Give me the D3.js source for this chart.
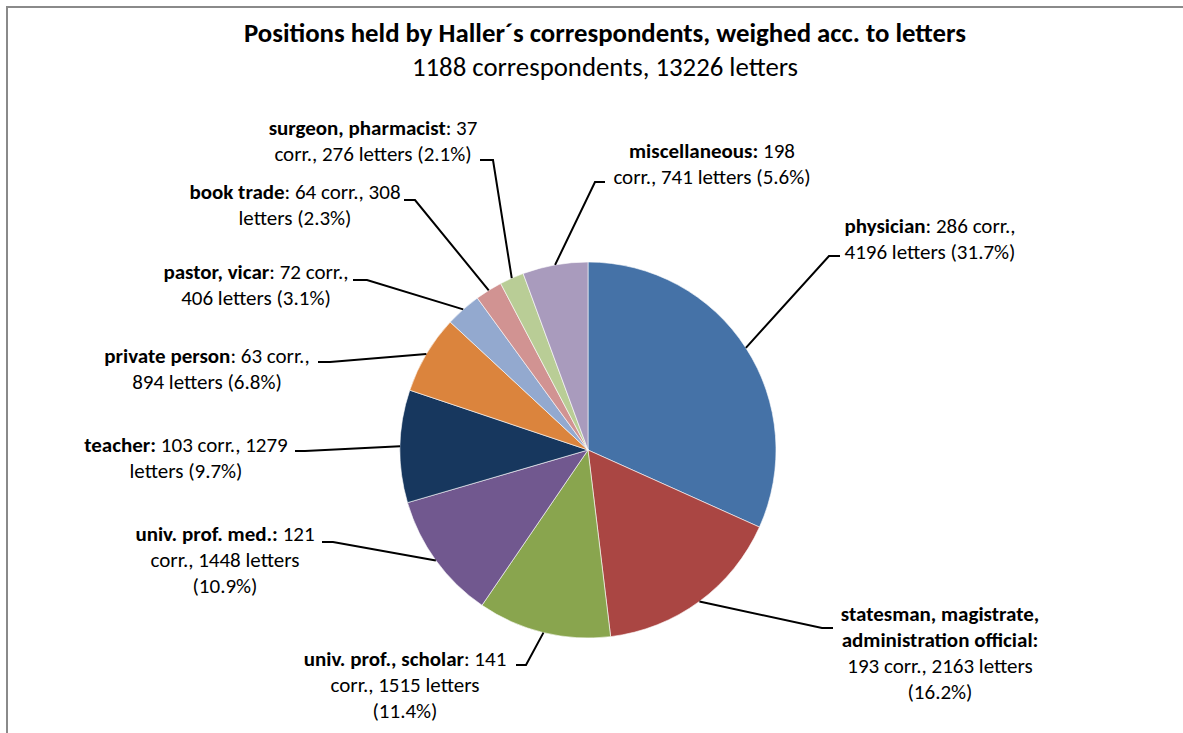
<!DOCTYPE html>
<html><head><meta charset="utf-8">
<script src="https://cdn.jsdelivr.net/npm/d3@7"></script>
<style>html,body{margin:0;padding:0;background:#fff}svg{display:block}</style>
</head><body>
<svg id="c" width="1183" height="733"></svg>
<script>
// ---- data ----
const categories = ["physician","statesman, magistrate, administration official","univ. prof., scholar","univ. prof. med.","teacher","private person","pastor, vicar","book trade","surgeon, pharmacist","miscellaneous"];
const correspondents = [286,193,141,121,103,63,72,64,37,198];
const letters = [4196,2163,1515,1448,1279,894,406,308,276,741];
const percentLabels = ["31.7%","16.2%","11.4%","10.9%","9.7%","6.8%","3.1%","2.3%","2.1%","5.6%"];
const colors = ["#4572A7","#AA4643","#89A54E","#71588F","#17375E","#DB843D","#93A9CF","#D19392","#B9CD96","#A99BBD"];
const titleText = "Positions held by Haller\u00b4s correspondents, weighed acc. to letters";
const subtitleText = "1188 correspondents, 13226 letters";

// ---- label layout (text centre x, first baseline, leader end, elbow) ----
const boldColon = [false,true,false,true,true,false,false,false,false,true];
const lineWords = [[3,3],[2,2,4,1],[4,3,1],[4,3,1],[4,2],[4,3],[4,3],[5,2],[3,4],[2,4]];
const labelPos = [
  {x:930,y:233,lx:840,ly:256,ex:829},
  {x:940,y:621,lx:833,ly:628,ex:822},
  {x:405,y:666,lx:516,ly:665,ex:526},
  {x:225,y:541,lx:322,ly:542,ex:333},
  {x:186,y:452,lx:295,ly:451,ex:305},
  {x:207,y:363,lx:318,ly:362,ex:330},
  {x:256,y:279,lx:353,ly:280,ex:367},
  {x:295,y:199,lx:404,ly:200,ex:415},
  {x:373,y:135,lx:480,ly:160,ex:493},
  {x:712,y:158,lx:605,ly:182,ex:595}
];

const svg = d3.select("#c");
const font = "Carlito, Calibri, Lato, sans-serif";

// frame
svg.append("path").attr("d","M7,733V7H1183").attr("fill","none").attr("stroke","#8a8a8a").attr("stroke-width",2);

// titles
svg.append("text").attr("x",605).attr("y",42).attr("text-anchor","middle")
  .attr("font-family",font).attr("font-size",26.8).attr("font-weight","bold").text(titleText);
svg.append("text").attr("x",605).attr("y",76).attr("text-anchor","middle")
  .attr("font-family",font).attr("font-size",26.8).text(subtitleText);

const cx = 588, cy = 450, r = 188;
const pie = d3.pie().sort(null).value(d => d);
const arcs = pie(letters);
const arc = d3.arc().innerRadius(0).outerRadius(r);

const g = svg.append("g").attr("transform",`translate(${cx},${cy})`);
g.selectAll("path.slice").data(arcs).join("path").attr("class","slice")
  .attr("d",arc).attr("fill",(d,i)=>colors[i]).attr("stroke","#fff").attr("stroke-width",0.6);

// leader lines
arcs.forEach((a,i)=>{
  const mid = (a.startAngle+a.endAngle)/2;
  const px = cx + r*Math.sin(mid), py = cy - r*Math.cos(mid);
  const L = labelPos[i];
  svg.append("path")
    .attr("d",`M${px},${py}L${L.ex},${L.ly}L${L.lx},${L.ly}`)
    .attr("fill","none").attr("stroke","#000").attr("stroke-width",2);
});

// labels
categories.forEach((name,i)=>{
  const full = `${name}: ${correspondents[i]} corr., ${letters[i]} letters (${percentLabels[i]})`;
  const boldLen = name.length + (boldColon[i]?1:0);
  const words = full.split(" ");
  const L = labelPos[i];
  const t = svg.append("text").attr("text-anchor","middle").attr("font-family",font).attr("font-size",21).attr("fill","#000")
    .attr("xml:space","preserve");
  let wi = 0, off = 0;
  lineWords[i].forEach((n,li)=>{
    const lineStr = words.slice(wi,wi+n).join(" ");
    wi += n;
    const start = off, end = off + lineStr.length;
    off = end + 1;
    const bEnd = Math.max(0, Math.min(boldLen,end) - start);
    const parts = [];
    if (bEnd>0) parts.push([lineStr.slice(0,bEnd),true]);
    if (bEnd<lineStr.length) parts.push([lineStr.slice(bEnd),false]);
    parts.forEach((p,pi)=>{
      const ts = t.append("tspan").text(p[0]).attr("font-weight",p[1]?"bold":"normal")
        .style("white-space","pre");
      if (pi===0) ts.attr("x",L.x).attr("y",L.y+li*26);
    });
  });
});
</script>
</body></html>
